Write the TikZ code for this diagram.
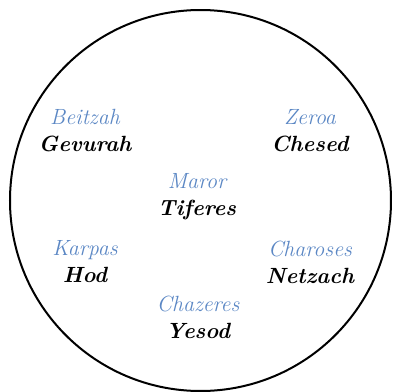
\documentclass[tikz,border=0pt]{standalone}
\usepackage{xcolor}
\usepackage{tikz}
\definecolor{plate}{HTML}{5B87C4}
\tikzset{
  sfira/.style={align=center,inner sep=1pt,font=\fontsize{11}{13.5}\selectfont\itshape},
  ring/.style={line width=1pt,draw=black}
}

\begin{document}
\begin{tikzpicture}[x=0.5pt,y=-0.5pt]
  \useasboundingbox (0,0) rectangle (393,392);
  \draw[ring] (200.5,200.5) circle[radius=95.25pt];
  \foreach \x/\y/\food/\sf/\nm in {85/131/Beitzah/Gevurah/gev,310/131/Zeroa/Chesed/che,
      197/197/Maror/Tiferes/tif,85/262/Karpas/Hod/hod,310/262/Charoses/Netzach/net,
      198/317/Chazeres/Yesod/yes}{
    \node[sfira] (\nm) at (\x,\y) {\textcolor{plate}{\food}\\ \textbf{\sf}};
  }
\end{tikzpicture}
\end{document}
